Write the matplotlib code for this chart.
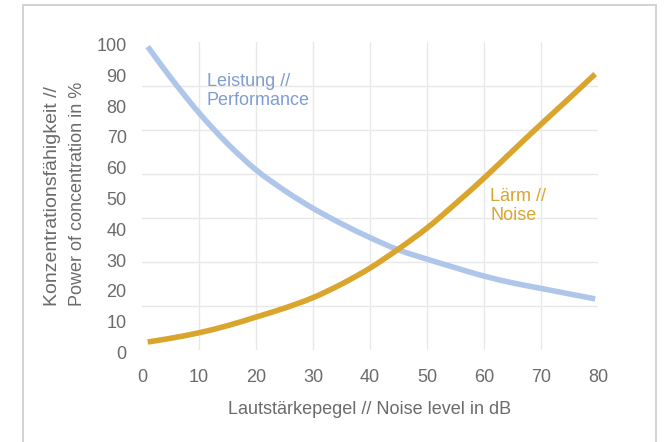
import matplotlib
matplotlib.use("Agg")
import numpy as np
import matplotlib.pyplot as plt
from matplotlib.patches import Rectangle, PathPatch
from matplotlib.path import Path
from matplotlib.transforms import ScaledTranslation

# Noise level in dB (x) and the two curves in %
noise_db = [1, 5, 10, 15, 20, 25, 30, 35, 40, 45, 50, 55, 60, 65, 70, 75, 79.5]
performance = [98.5, 88.5, 77, 67, 58.5, 51.8, 46, 41, 36.5, 32.5, 29.5, 26.7, 24, 21.8, 20, 18.2, 16.6]
noise = [2.6, 3.8, 5.6, 7.9, 10.7, 13.6, 17.0, 21.4, 26.6, 32.8, 39.6, 47.5, 55.8, 64.6, 73.3, 81.8, 89.6]

x_ticks = [0, 10, 20, 30, 40, 50, 60, 70, 80]
y_ticks = [0, 10, 20, 30, 40, 50, 60, 70, 80, 90, 100]
x_grid = [10, 20, 30, 40, 50, 60, 70]
y_grid = [100 * k / 7 for k in range(1, 7)]

BLUE_LINE = "#aec6ea"
BLUE_TEXT = "#7f9dd2"
ORANGE = "#d9a52d"
TEXT_GRAY = "#6b6b6b"
GRID = "#e8e8e8"


def smooth_path(xs, ys):
    """Catmull-Rom spline through the points, as cubic Bezier segments."""
    p = np.column_stack([xs, ys]).astype(float)
    ext = np.vstack([2 * p[0] - p[1], p, 2 * p[-1] - p[-2]])
    verts = [p[0]]
    codes = [Path.MOVETO]
    for i in range(1, len(ext) - 2):
        p0, p1, p2, p3 = ext[i - 1], ext[i], ext[i + 1], ext[i + 2]
        verts += [p1 + (p2 - p0) / 6, p2 - (p3 - p1) / 6, p2]
        codes += [Path.CURVE4] * 3
    return Path(verts, codes)


plt.rcParams["font.family"] = ["Liberation Sans", "DejaVu Sans"]

W, H = 666, 442
fig = plt.figure(figsize=(W / 100, H / 100), dpi=100)

# outer frame (open at the bottom edge of the image)
fig.patches.append(Rectangle((23 / W, -0.05), (656 - 23) / W, 1.05 - 5 / H,
                             transform=fig.transFigure, fill=False,
                             edgecolor="#cfcfcf", linewidth=1.3))

ax = fig.add_axes([142 / W, 1 - 350 / H, (598 - 142) / W, (350 - 42) / H])
ax.set_xlim(0, 80)
ax.set_ylim(0, 100)

for gx in x_grid:
    ax.axvline(gx, color=GRID, linewidth=1.0, zorder=0)
for gy in y_grid:
    ax.axhline(gy, color=GRID, linewidth=1.0, zorder=0)

ax.add_patch(PathPatch(smooth_path(noise_db, performance), facecolor="none",
                       edgecolor=BLUE_LINE, linewidth=4, capstyle="butt", zorder=2))
ax.add_patch(PathPatch(smooth_path(noise_db, noise), facecolor="none",
                       edgecolor=ORANGE, linewidth=4, capstyle="butt", zorder=3))

for s in ax.spines.values():
    s.set_visible(False)
ax.set_xticks(x_ticks)
ax.set_yticks(y_ticks)
ax.tick_params(axis="both", length=0, labelsize=13, labelcolor=TEXT_GRAY)
ax.tick_params(axis="y", pad=11)
ax.tick_params(axis="x", pad=14)
shift = ScaledTranslation(0, -2.5 / 100, fig.dpi_scale_trans)
for lab in ax.get_yticklabels():
    lab.set_transform(lab.get_transform() + shift)

ax.text(207 / W, 1 - 91 / H, "Leistung //\nPerformance", transform=fig.transFigure,
        ha="left", va="center", fontsize=13, color=BLUE_TEXT, linespacing=1.2)
ax.text(490 / W, 1 - 206 / H, "Lärm //\nNoise", transform=fig.transFigure,
        ha="left", va="center", fontsize=13, color=ORANGE, linespacing=1.2)

fig.text(370 / W, 1 - 410 / H, "Lautstärkepegel // Noise level in dB",
         ha="center", va="center", fontsize=13, color=TEXT_GRAY)
fig.text(53 / W, 1 - 306 / H, "Konzentrationsfähigkeit //", rotation=90,
         ha="center", va="bottom", fontsize=14, color=TEXT_GRAY)
fig.text(77 / W, 1 - 306 / H, "Power of concentration in %", rotation=90,
         ha="center", va="bottom", fontsize=13, color=TEXT_GRAY)

fig.savefig("out.png", dpi=100)
